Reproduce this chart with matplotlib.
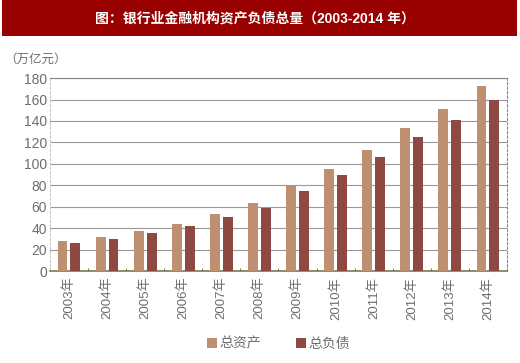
import matplotlib as mpl
import matplotlib.pyplot as plt
import numpy as np
from matplotlib.patches import Rectangle

mpl.rcParams['font.family'] = ['Liberation Sans', 'Noto Sans CJK SC', 'DejaVu Sans']

years = ['2003年', '2004年', '2005年', '2006年', '2007年', '2008年',
         '2009年', '2010年', '2011年', '2012年', '2013年', '2014年']
assets = [27.7, 31.6, 37.5, 43.9, 53.1, 63.2, 79.5, 95.3, 113.3, 133.6, 151.4, 172.3]
liabilities = [26.0, 30.3, 35.8, 41.7, 50.5, 59.3, 75.1, 89.5, 106.1, 125.0, 141.2, 160.0]
yticks = [0, 20, 40, 60, 80, 100, 120, 140, 160, 180]

c_asset = '#bf8f72'
c_liab = '#8e4a42'
txt_color = '#6e6e6e'

fig = plt.figure(figsize=(5.2, 3.63), dpi=100)
fig.patch.set_facecolor('white')

# title band
fig.patches.append(Rectangle((0.004, 0.9), 0.99, 0.1, transform=fig.transFigure,
                             facecolor='#990000', edgecolor='none', zorder=0))
fig.text(0.49, 0.948, '图：银行业金融机构资产负债总量（2003-2014 年）', color='white',
         fontsize=10, fontweight='bold', ha='center', va='center')

ax = fig.add_axes([0.096, 0.253, 0.879, 0.532])
x = np.arange(len(years))
w = 0.26
ax.bar(x - 0.17, assets, w, color=c_asset, label='总资产', zorder=3)
ax.bar(x + 0.17, liabilities, w, color=c_liab, label='总负债', zorder=3)

ax.set_xlim(-0.5, len(years) - 0.5)
ax.set_ylim(0, 180)
ax.set_yticks(yticks)
ax.set_yticklabels([str(v) for v in yticks], color=txt_color, fontsize=10)
ax.tick_params(axis='y', length=0, pad=2)

ax.set_xticks(x)
ax.set_xticklabels(years, rotation=90, color=txt_color, fontsize=9.5)
ax.set_xticks(np.arange(len(years) + 1) - 0.5, minor=True)
ax.tick_params(axis='x', which='major', length=0, pad=4)
ax.tick_params(axis='x', which='minor', length=2, direction='in', color='#5a5a40')

ax.grid(axis='y', color='#999999', linewidth=0.8, zorder=0)
ax.set_axisbelow(True)

ax.spines['top'].set_color('#888888')
ax.spines['top'].set_linewidth(0.8)
ax.spines['bottom'].set_color('#7a7a50')
ax.spines['bottom'].set_linewidth(1.2)
ax.spines['left'].set_color('#c8c8c8')
ax.spines['left'].set_linestyle((0, (2, 2)))
ax.spines['right'].set_color('#888888')
ax.spines['right'].set_linestyle((0, (2, 2)))

fig.text(0.008, 0.835, '（万亿元）', color=txt_color, fontsize=9, ha='left', va='center')

ax.legend(loc='center', bbox_to_anchor=(0.5, -0.375), ncol=2, frameon=False,
          fontsize=10, handlelength=0.7, handleheight=0.7, handletextpad=0.2,
          columnspacing=2.5, labelcolor=txt_color)

fig.savefig('out.png', dpi=100)
